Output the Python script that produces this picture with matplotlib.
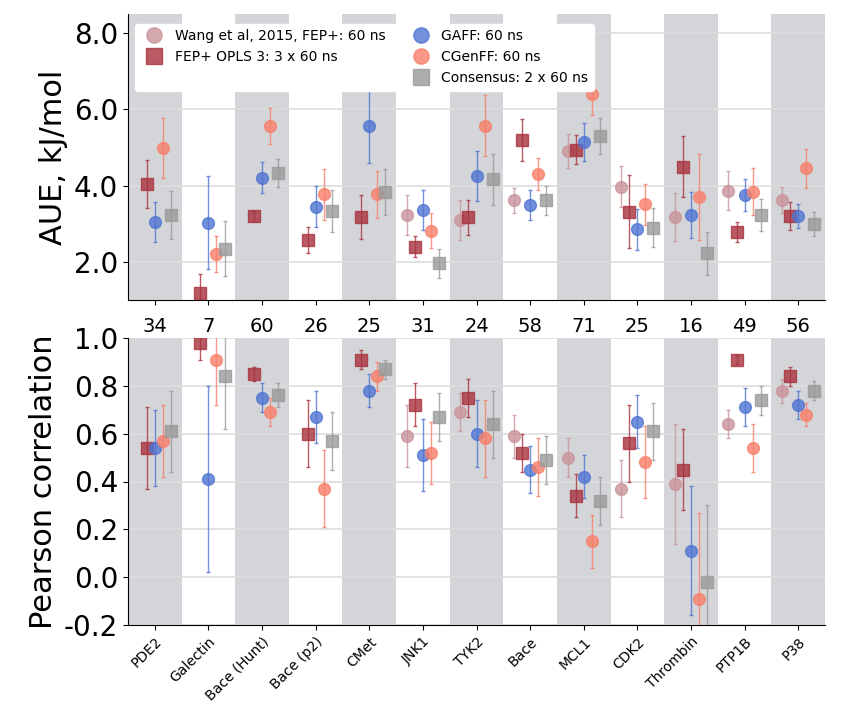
import numpy as np
import matplotlib.pyplot as plt
from matplotlib.lines import Line2D

targets = ["PDE2", "Galectin", "Bace (Hunt)", "Bace (p2)", "CMet", "JNK1", "TYK2",
           "Bace", "MCL1", "CDK2", "Thrombin", "PTP1B", "P38"]
n_ligands = [34, 7, 60, 26, 25, 31, 24, 58, 71, 25, 16, 49, 56]
nan = np.nan

# AUE (kJ/mol) and errors
aue_wang = [nan, nan, nan, nan, nan, 3.23, 3.10, 3.62, 4.91, 3.97, 3.18, 3.87, 3.62]
aue_wang_err = [nan, nan, nan, nan, nan, 0.52, 0.53, 0.33, 0.44, 0.54, 0.63, 0.52, 0.35]
aue_opls = [4.03, 1.19, 3.20, 2.57, 3.18, 2.40, 3.17, 5.20, 4.94, 3.32, 4.50, 2.79, 3.20]
aue_opls_err = [0.63, 0.50, 0.14, 0.35, 0.57, 0.28, 0.46, 0.55, 0.38, 0.96, 0.81, 0.26, 0.37]
aue_gaff = [3.05, 3.03, 4.21, 3.45, 5.55, 3.36, 4.25, 3.49, 5.15, 2.85, 3.23, 3.75, 3.20]
aue_gaff_err = [0.53, 1.23, 0.40, 0.54, 0.96, 0.52, 0.65, 0.40, 0.50, 0.53, 0.61, 0.41, 0.32]
aue_cgenff = [4.98, 2.20, 5.57, 3.77, 3.77, 2.82, 5.57, 4.30, 6.41, 3.51, 3.71, 3.84, 4.45]
aue_cgenff_err = [0.78, 0.47, 0.47, 0.67, 0.61, 0.46, 0.80, 0.42, 0.57, 0.54, 1.13, 0.61, 0.51]
aue_cons = [3.23, 2.35, 4.34, 3.34, 3.84, 1.96, 4.16, 3.62, 5.29, 2.90, 2.22, 3.23, 2.99]
aue_cons_err = [0.64, 0.73, 0.37, 0.55, 0.60, 0.37, 0.67, 0.38, 0.47, 0.52, 0.57, 0.42, 0.31]

# Pearson correlation and errors
r_wang = [nan, nan, nan, nan, nan, 0.59, 0.69, 0.59, 0.50, 0.37, 0.39, 0.64, 0.78]
r_wang_err = [nan, nan, nan, nan, nan, 0.13, 0.08, 0.09, 0.08, 0.12, 0.25, 0.06, 0.05]
r_opls = [0.54, 0.98, 0.85, 0.60, 0.91, 0.72, 0.75, 0.52, 0.34, 0.56, 0.45, 0.91, 0.84]
r_opls_err = [0.17, 0.07, 0.03, 0.14, 0.04, 0.09, 0.08, 0.08, 0.09, 0.16, 0.17, 0.02, 0.04]
r_gaff = [0.54, 0.41, 0.75, 0.67, 0.78, 0.51, 0.60, 0.45, 0.42, 0.65, 0.11, 0.71, 0.72]
r_gaff_err = [0.16, 0.39, 0.06, 0.11, 0.07, 0.15, 0.14, 0.10, 0.09, 0.11, 0.27, 0.08, 0.06]
r_cgenff = [0.57, 0.91, 0.69, 0.37, 0.84, 0.52, 0.58, 0.46, 0.15, 0.48, -0.09, 0.54, 0.68]
r_cgenff_err = [0.15, 0.19, 0.06, 0.16, 0.06, 0.13, 0.16, 0.12, 0.11, 0.15, 0.36, 0.10, 0.05]
r_cons = [0.61, 0.84, 0.76, 0.57, 0.87, 0.67, 0.64, 0.49, 0.32, 0.61, -0.02, 0.74, 0.78]
r_cons_err = [0.17, 0.22, 0.05, 0.12, 0.04, 0.10, 0.14, 0.10, 0.10, 0.12, 0.32, 0.06, 0.04]

series = [
    ("Wang et al, 2015, FEP+: 60 ns", "o", "#c9939b", -0.3, aue_wang, aue_wang_err, r_wang, r_wang_err),
    ("FEP+ OPLS 3: 3 x 60 ns", "s", "#a8323e", -0.15, aue_opls, aue_opls_err, r_opls, r_opls_err),
    ("GAFF: 60 ns", "o", "#4f74d2", 0.0, aue_gaff, aue_gaff_err, r_gaff, r_gaff_err),
    ("CGenFF: 60 ns", "o", "#f87f6a", 0.15, aue_cgenff, aue_cgenff_err, r_cgenff, r_cgenff_err),
    ("Consensus: 2 x 60 ns", "s", "#9a9a9a", 0.3, aue_cons, aue_cons_err, r_cons, r_cons_err),
]

x = np.arange(len(targets))
fig = plt.figure(figsize=(8.42, 7.06), dpi=100)
ax1 = fig.add_axes([128 / 842, 1 - 300 / 706, 697 / 842, 286 / 706])
ax2 = fig.add_axes([128 / 842, 1 - 625 / 706, 697 / 842, 287 / 706])

for ax in (ax1, ax2):
    for i in range(0, len(targets), 2):
        ax.axvspan(i - 0.5, i + 0.5, color="#d3d5d8", zorder=0, lw=0)
    ax.yaxis.grid(True, color="#dddddd", lw=1.2, zorder=0.5)
    ax.set_xlim(-0.5, len(targets) - 0.5)
    ax.spines["top"].set_visible(False)
    ax.spines["right"].set_visible(False)
    ax.tick_params(axis="y", labelsize=20)
    ax.set_xticks(x)

handles = []
for label, m, c, off, a, ae, r, re in series:
    ms = 8.5 if m == "o" else 8
    ax1.errorbar(x + off, a, yerr=ae, fmt=m, color=c, ms=ms, alpha=0.8,
                 elinewidth=1.0, capsize=1.2, zorder=3)
    ax2.errorbar(x + off, r, yerr=re, fmt=m, color=c, ms=ms, alpha=0.8,
                 elinewidth=1.0, capsize=1.2, zorder=3)
    handles.append(Line2D([], [], marker=m, ls="", color=c, ms=11, alpha=0.8, label=label))

blank = Line2D([], [], ls="", label=" ")
leg_handles = [handles[0], handles[1], blank, handles[2], handles[3], handles[4]]
ax1.set_ylim(1.0, 8.5)
ax1.set_yticks([2, 4, 6, 8])
ax1.set_yticklabels(["%.1f" % v for v in [2, 4, 6, 8]])
ax1.set_xticklabels([])
ax1.set_ylabel("AUE, kJ/mol", fontsize=22)
leg = ax1.legend(handles=leg_handles, ncol=2, loc="upper left", fontsize=10, framealpha=1,
                 edgecolor="white", handletextpad=0.5, columnspacing=1.5,
                 bbox_to_anchor=(0.0, 0.99))
leg.set_zorder(10)

ax2.set_ylim(-0.2, 1.0)
ax2.set_yticks(np.arange(-0.2, 1.01, 0.2))
ax2.set_yticklabels(["%.1f" % v for v in np.arange(-0.2, 1.01, 0.2)])
ax2.set_xticklabels(targets, rotation=45, ha="right", rotation_mode="anchor", fontsize=10)
ax2.set_ylabel("Pearson correlation", fontsize=22)
for i, n in enumerate(n_ligands):
    ax2.text(i, 1.01, str(n), ha="center", va="bottom", fontsize=14)

fig.savefig("out.png", dpi=100)
